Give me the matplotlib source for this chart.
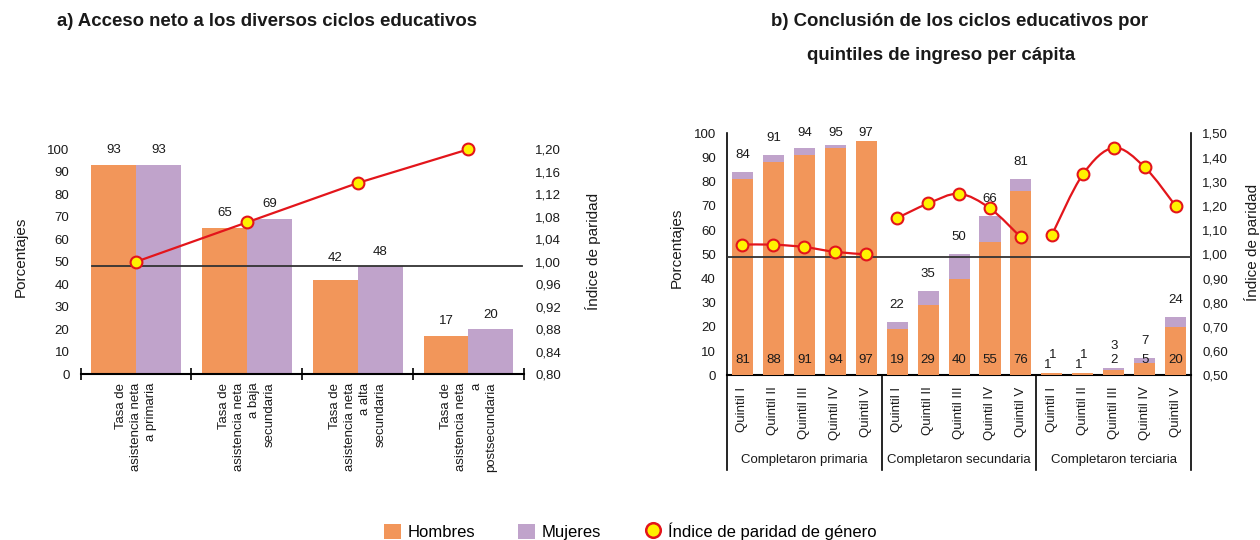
import numpy as np
import matplotlib.pyplot as plt
import matplotlib.transforms as mtransforms
from matplotlib.path import Path
from matplotlib.patches import PathPatch, Patch
from matplotlib.lines import Line2D
from matplotlib.ticker import FuncFormatter

plt.rcParams['font.family'] = ['Liberation Sans', 'DejaVu Sans']

# a) acceso neto
niveles = ["Tasa de\nasistencia neta\na primaria",
           "Tasa de\nasistencia neta\na baja\nsecundaria",
           "Tasa de\nasistencia neta\na alta\nsecundaria",
           "Tasa de\nasistencia neta\na\npostsecundaria"]
acceso_hombres = [93, 65, 42, 17]
acceso_mujeres = [93, 69, 48, 20]
acceso_ipg = [1.00, 1.07, 1.14, 1.20]

# b) conclusion por quintiles
quintiles = ["Quintil I", "Quintil II", "Quintil III", "Quintil IV", "Quintil V"]
ciclos = ["Completaron primaria", "Completaron secundaria", "Completaron terciaria"]
concl_hombres = [[81, 88, 91, 94, 97], [19, 29, 40, 55, 76], [1, 1, 2, 5, 20]]
concl_mujeres = [[84, 91, 94, 95, 97], [22, 35, 50, 66, 81], [1, 1, 3, 7, 24]]
concl_ipg = [[1.04, 1.04, 1.03, 1.01, 1.00],
             [1.15, 1.21, 1.25, 1.19, 1.07],
             [1.08, 1.33, 1.44, 1.36, 1.20]]

NARANJA = '#F2965A'
LILA = '#C0A3CB'
ROJO = '#E3151B'
AMARILLO = '#FFF200'
TXT = '#1a1a1a'

coma = FuncFormatter(lambda v, p: f"{v:.2f}".replace('.', ','))


def smooth_path(xs, ys):
    # curva suavizada tipo Excel (Catmull-Rom como Bezier cubica)
    pts = np.column_stack([xs, ys]).astype(float)
    ext = np.vstack([pts[0], pts, pts[-1]])
    verts = [pts[0]]
    codes = [Path.MOVETO]
    for i in range(len(pts) - 1):
        p0, p1, p2, p3 = ext[i], ext[i + 1], ext[i + 2], ext[i + 3]
        verts += [p1 + (p2 - p0) / 6, p2 - (p3 - p1) / 6, p2]
        codes += [Path.CURVE4] * 3
    return Path(verts, codes)


fig = plt.figure(figsize=(12.6, 5.4), dpi=100)

# ---------- panel a ----------
ax = fig.add_axes([0.064, 0.3069, 0.3518, 0.4167])
x = np.arange(len(niveles))
w = 0.405
ax.bar(x - w / 2, acceso_hombres, width=w, color=NARANJA, zorder=2)
ax.bar(x + w / 2, acceso_mujeres, width=w, color=LILA, zorder=2)
ax.set_xlim(-0.5, 3.5)
ax.set_ylim(0, 100)
ax.set_yticks(range(0, 101, 10))
ax.tick_params(axis='y', length=0, pad=8, labelsize=9.5, labelcolor=TXT)
ax.set_xticks([-0.5, 0.5, 1.5, 2.5, 3.5])
ax.set_xticklabels([])
ax.set_xticks(x, labels=niveles, minor=True)
ax.tick_params(axis='x', which='major', direction='inout', length=9, width=1.2)
ax.tick_params(axis='x', which='minor', length=0, pad=6, labelsize=9.5, labelcolor=TXT)
for t in ax.get_xticklabels(minor=True):
    t.set_rotation(90)
    t.set_multialignment('right')
    t.set_linespacing(1.35)
for s in ['top', 'left', 'right']:
    ax.spines[s].set_visible(False)
ax.spines['bottom'].set_linewidth(1.5)

linea_pct = 48.1
for xi, vh, vm in zip(x, acceso_hombres, acceso_mujeres):
    for dx, v in [(-w / 2, vh), (w / 2, vm)]:
        pos = min(v + 6.5, 100)
        if abs(pos - linea_pct) < 3:
            pos = linea_pct + 3.4
        ax.text(xi + dx, pos, str(v), ha='center', va='center', fontsize=9.5, color=TXT)

ax2 = ax.twinx()
ax2.set_ylim(0.80, 1.20)
ax2.set_yticks(np.arange(0.80, 1.201, 0.04))
ax2.yaxis.set_major_formatter(coma)
ax2.tick_params(axis='y', length=0, pad=8, labelsize=9.5, labelcolor=TXT)
for s in ax2.spines.values():
    s.set_visible(False)
ax2.axhline(0.9924, xmin=0.025, xmax=0.995, color='#333333', lw=1.3, zorder=1)
ax2.plot(x, acceso_ipg, color=ROJO, lw=1.6, marker='o', ms=8.5, mfc=AMARILLO,
         mec=ROJO, mew=1.5, zorder=3, clip_on=False)

ax.text(-0.135, 0.521, 'Porcentajes', transform=ax.transAxes, rotation=90,
        ha='center', va='center', fontsize=11, color=TXT)
ax.text(1.156, 0.546, 'Índice de paridad', transform=ax.transAxes, rotation=90,
        ha='center', va='center', fontsize=11, color=TXT)

# ---------- panel b ----------
axb = fig.add_axes([0.577, 0.305, 0.3683, 0.4481])
wb = 0.68
for g in range(len(ciclos)):
    xs = g * 5 + np.arange(5)
    axb.bar(xs, concl_mujeres[g], width=wb, color=LILA, zorder=2)
    axb.bar(xs, concl_hombres[g], width=wb, color=NARANJA, zorder=3)
    for xi, vh, vm in zip(xs, concl_hombres[g], concl_mujeres[g]):
        hpos, mpos = 6.3, min(vm + 7, 100)
        hdx = mdx = 0
        if mpos - hpos < 3:
            # etiquetas casi superpuestas: se escalonan
            hpos, mpos, hdx, mdx = 4.2, 8.4, -0.12, 0.04
        elif mpos - hpos < 6:
            mpos = hpos + 6
        axb.text(xi + hdx, hpos, str(vh), ha='center', va='center', fontsize=9.5,
                 color=TXT, zorder=5)
        axb.text(xi + mdx, mpos, str(vm), ha='center', va='center', fontsize=9.5,
                 color=TXT, zorder=5)

axb.set_xlim(-0.5, 14.5)
axb.set_ylim(0, 100)
axb.set_yticks(range(0, 101, 10))
axb.tick_params(axis='y', length=0, pad=8, labelsize=9.5, labelcolor=TXT)
axb.set_xticks(np.arange(15), labels=quintiles * 3, rotation=90)
axb.tick_params(axis='x', length=0, pad=8, labelsize=9.5, labelcolor=TXT)
for s in ['top', 'left', 'right']:
    axb.spines[s].set_visible(False)
axb.spines['bottom'].set_linewidth(1.5)

trans = mtransforms.blended_transform_factory(axb.transData, axb.transAxes)
for xv, top in [(-0.5, 1.0), (4.5, 0.0), (9.5, 0.0), (14.5, 1.0)]:
    axb.plot([xv, xv], [-0.391, top], transform=trans, color='black', lw=1.2,
             clip_on=False, zorder=4)
for g, nombre in enumerate(ciclos):
    axb.text(g * 5 + 2, -0.35, nombre, transform=trans, ha='center', va='center',
             fontsize=9.5, color=TXT)

axb2 = axb.twinx()
axb2.set_ylim(0.50, 1.50)
axb2.set_yticks(np.arange(0.50, 1.501, 0.10))
axb2.yaxis.set_major_formatter(coma)
axb2.tick_params(axis='y', length=0, pad=8, labelsize=9.5, labelcolor=TXT)
for s in axb2.spines.values():
    s.set_visible(False)
axb2.axhline(0.99, color='#333333', lw=1.3, zorder=1)
for g in range(len(ciclos)):
    xs = g * 5 + np.arange(5)
    axb2.add_patch(PathPatch(smooth_path(xs, concl_ipg[g]), fill=False,
                             edgecolor=ROJO, lw=1.6, zorder=2))
    axb2.plot(xs, concl_ipg[g], ls='none', marker='o', ms=8.5, mfc=AMARILLO,
              mec=ROJO, mew=1.5, zorder=3)

axb.text(-0.108, 0.525, 'Porcentajes', transform=axb.transAxes, rotation=90,
         ha='center', va='center', fontsize=11, color=TXT)
axb.text(1.131, 0.551, 'Índice de paridad', transform=axb.transAxes, rotation=90,
         ha='center', va='center', fontsize=11, color=TXT)

# titulos
fig.text(0.045, 1 - 21 / 540, 'a) Acceso neto a los diversos ciclos educativos',
         ha='left', va='center', fontsize=13.4, fontweight='bold', color=TXT)
fig.text(960 / 1260, 1 - 21 / 540, 'b) Conclusión de los ciclos educativos por',
         ha='center', va='center', fontsize=13.4, fontweight='bold', color=TXT)
fig.text(941 / 1260, 1 - 55 / 540, 'quintiles de ingreso per cápita',
         ha='center', va='center', fontsize=13.4, fontweight='bold', color=TXT)

# leyenda
handles = [Patch(facecolor=NARANJA, label='Hombres'),
           Patch(facecolor=LILA, label='Mujeres'),
           Line2D([], [], ls='none', marker='o', ms=10.5, mfc=AMARILLO, mec=ROJO,
                  mew=1.8, label='Índice de paridad de género')]
fig.legend(handles=handles, loc='center', bbox_to_anchor=(0.5, 9 / 540), ncol=3,
           frameon=False, fontsize=12, handlelength=1.0, handleheight=1.0,
           handletextpad=0.4, columnspacing=2.6)

fig.savefig('out.png', dpi=100)
